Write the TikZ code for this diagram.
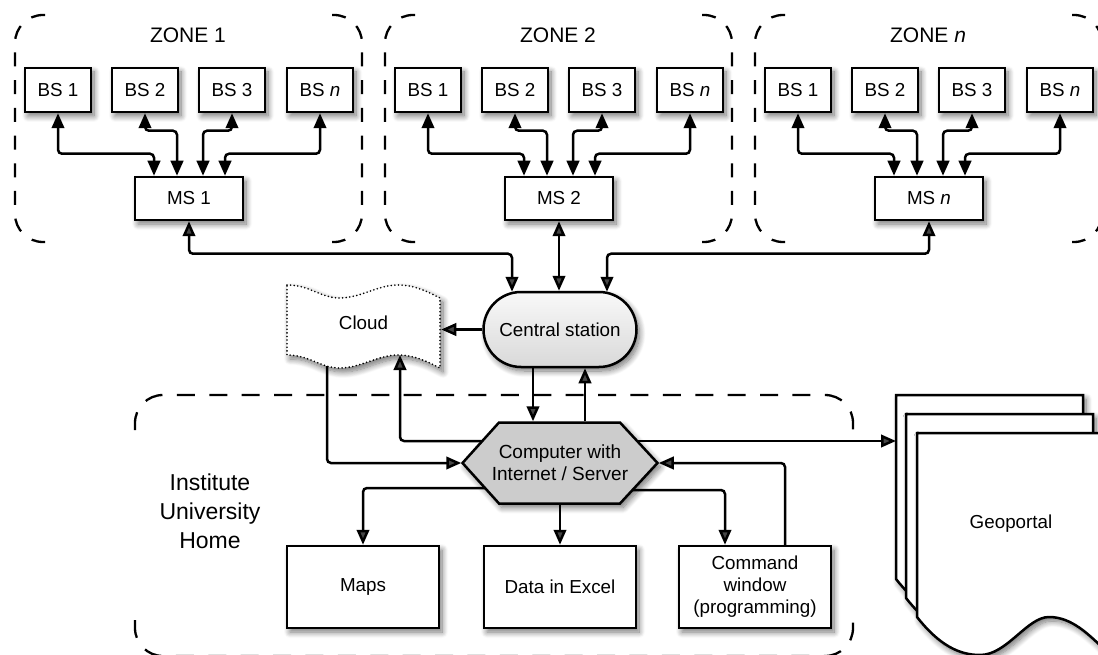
\documentclass[tikz,border=0pt]{standalone}
\usepackage{fontspec}
\setmainfont{Liberation Sans}
\usetikzlibrary{arrows.meta,shapes.misc,shadows.blur,calc}
\newcommand\geosheet[2]{%
  \path[sheet] (#1,#2) -- (#1+187,#2) -- (#1+187,#2+216)
    .. controls (#1+172,#2+202) and (#1+155,#2+184) .. (#1+132,#2+184)
    .. controls (#1+110,#2+184) and (#1+90,#2+222) .. (#1+63,#2+222)
    .. controls (#1+42,#2+222) and (#1+22,#2+212) .. (#1,#2+184) -- cycle;}
\begin{document}
\begin{tikzpicture}[x=1pt,y=-1pt,
  font=\fontsize{18.8}{22}\selectfont,
  line width=2.5pt,
  shd/.style={blur shadow={shadow xshift=3pt,shadow yshift=-4pt,shadow blur radius=6pt,shadow opacity=55,shadow blur steps=10}},
  box/.style={draw, fill=white, shd, inner sep=0pt, line width=2.5pt},
  bsbox/.style={box, minimum width=66pt, minimum height=44pt},
  msbox/.style={box, minimum width=108pt, minimum height=43pt},
  outbox/.style={box, minimum width=152pt, minimum height=82pt, align=center},
  csbox/.style={rounded rectangle, draw, line width=2.5pt, minimum width=153pt, minimum height=75pt, inner sep=0pt, top color=gray!5, bottom color=gray!30, shd},
  hexfill/.style={draw, fill=gray!40, line width=2.5pt, shd},
  sheet/.style={draw, fill=white, line width=2.5pt, shd},
  cloudshape/.style={fill=white, shd, draw, line width=1.8pt, line cap=round, dash pattern=on 0pt off 3.6pt},
  arr/.style={-{Triangle[length=15pt,width=12.5pt]}, line width=2.5pt, rounded corners=4pt},
  biarr/.style={{Triangle[length=15pt,width=12.5pt]}-{Triangle[length=15pt,width=12.5pt]}, line width=2.5pt, rounded corners=4pt},
  zonedash/.style={line width=2.3pt, dash pattern=on 14pt off 13.7pt, rounded corners=28pt},
  instdash/.style={line width=2.3pt, dash pattern=on 18pt off 14.4pt, rounded corners=28pt},
  zonelabel/.style={font=\fontsize{21}{24}\selectfont},
  instlabel/.style={font=\fontsize{23}{29}\selectfont, align=center}
]
\useasboundingbox (0,0) rectangle (1098,655);

% ---------------- zones ----------------
\foreach \z/\dx/\lab in {1/0/1, 2/370/2, n/740/\textit{n}} {
  \node[zonelabel] (zl\z) at (188+\dx,35) {ZONE \lab};
  \node[bsbox] (ba\z) at (58+\dx,90) {BS 1};
  \node[bsbox] (bb\z) at (145+\dx,90) {BS 2};
  \node[bsbox] (bc\z) at (232+\dx,90) {BS 3};
  \node[bsbox] (bd\z) at (320+\dx,90) {BS \textit{n}};
  \node[msbox] (ms\z) at (189+\dx,198.5) {MS \lab};
  \draw[zonedash] (45+\dx,15) -- (15+\dx,15) -- (15+\dx,242) -- (45+\dx,242);
  \draw[zonedash] (332+\dx,15) -- (362+\dx,15) -- (362+\dx,242) -- (332+\dx,242);
  \draw[biarr] (ba\z.south) |- ($(ms\z.north)+(-35,-22)$) -- ($(ms\z.north)+(-35,0)$);
  \draw[biarr] (bb\z.south) |- ($(ms\z.north)+(-12,-45)$) -- ($(ms\z.north)+(-12,0)$);
  \draw[biarr] (bc\z.south) |- ($(ms\z.north)+(14,-45)$) -- ($(ms\z.north)+(14,0)$);
  \draw[biarr] (bd\z.south) |- ($(ms\z.north)+(36,-22)$) -- ($(ms\z.north)+(36,0)$);
}

% ---------------- central station & cloud ----------------
\node[csbox] (cs) at (560,329.5) {Central station};

\path[cloudshape] (287,285) .. controls (310,285) and (320,298) .. (340,298)
  .. controls (360,298) and (378,285) .. (398,285)
  .. controls (415,285) and (428,292) .. (440,298)
  -- (440,368)
  .. controls (428,362) and (415,355) .. (398,355)
  .. controls (378,355) and (360,368) .. (340,368)
  .. controls (320,368) and (310,355) .. (287,355) -- cycle;
\node[minimum width=153pt, inner sep=0pt] (cloud) at (363.5,323) {Cloud};
\coordinate (cloudB1) at (327,366);
\coordinate (cloudB2) at (400,355);

\draw[biarr] (ms1.south) |- ($(cs.north)+(-48,-37)$) -- ($(cs.north)+(-48,1)$);
\draw[biarr] (ms2.south) -- (ms2.south |- cs.north);
\draw[biarr] (msn.south) |- ($(cs.north)+(47,-37)$) -- ($(cs.north)+(47,1)$);
\draw[arr] (cs.west) -- (cs.west -| cloud.east);

% ---------------- institute ----------------
\draw[instdash] (135,430) -- (135,395) -- (853,395) -- (853,430);
\draw[instdash] (135,620) -- (135,656) -- (853,656) -- (853,620);
\node[instlabel] (inst) at (210,511) {Institute\\University\\Home};

\path[hexfill] (499,422.5) -- (620,422.5) -- (657.5,463) -- (620,503.5) -- (499,503.5) -- (462.5,463) -- cycle;
\node[align=center, minimum width=195pt, minimum height=81pt, inner sep=0pt, font=\fontsize{19}{22}\selectfont] (comp) at (560,463) {Computer with\\Internet / Server};
\coordinate (hexUL) at (482.3,441);
\coordinate (hexUR) at (637.7,441);
\coordinate (hexLL) at (485,488);
\coordinate (hexLR) at (633,490);

\node[outbox] (maps) at (363,587) {Maps};
\node[outbox] (data) at (560,587) {Data in Excel};
\node[outbox] (cmd) at (755,587) {Command\\window\\(programming)};

% ---------------- geoportal ----------------
\geosheet{896}{395}
\geosheet{906}{414}
\geosheet{917}{433}
\node (geo) at (1011,524) {Geoportal};
\coordinate (geoL) at (896,441);

% ---------------- connectors ----------------
\draw[arr] ($(cs.south)+(-27,0)$) -- ($(comp.north)+(-27,0)$);
\draw[arr] ($(comp.north)+(25,0)$) -- ($(cs.south)+(25,0)$);
\draw[arr] (hexUL) -| (cloudB2);
\draw[arr] (cloudB1) |- (comp.west);
\draw[arr] (hexUR) -- (geoL);
\draw[arr] (hexLL) -| (maps.north);
\draw[arr] (comp.south) -- (data.north);
\draw[arr] (hexLR) -| ($(cmd.north)+(-30,0)$);
\draw[arr] ($(cmd.north)+(30,0)$) |- (comp.east);
\end{tikzpicture}
\end{document}
